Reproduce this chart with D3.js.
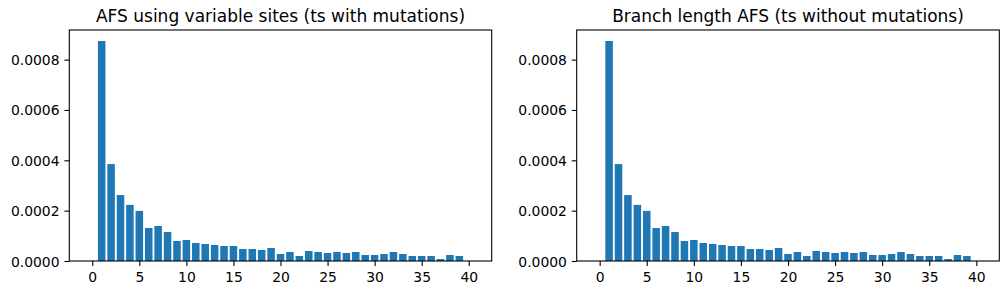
<html>

<head>
  <script src="https://d3js.org/d3.v7.min.js"></script>
  <style>
    body { margin: 0; background: white; }
    text { font-family: "DejaVu Sans", sans-serif; fill: black; }
  </style>
</head>

<body>
  <svg id="chart" width="1008" height="295" style="background: white;"></svg>

  <script>
    // allele counts 0..40
    const counts = d3.range(0, 41);

    // AFS from variable sites (ts with mutations)
    const siteAfs = [0, 0.000874, 0.000385, 0.000262, 0.000223, 0.000199, 0.000131, 0.000139, 0.000115,
      0.0000795, 0.0000834, 0.0000715, 0.0000675, 0.0000636, 0.0000596, 0.0000596, 0.0000477, 0.0000477,
      0.0000437, 0.0000517, 0.0000278, 0.0000358, 0.0000199, 0.0000397, 0.0000358, 0.0000318, 0.0000358,
      0.0000318, 0.0000358, 0.0000238, 0.0000238, 0.0000278, 0.0000358, 0.0000278, 0.0000199, 0.0000199,
      0.0000199, 0.0000079, 0.0000238, 0.0000199, 0];

    // branch length AFS (ts without mutations)
    const branchAfs = [0, 0.000874, 0.000385, 0.000262, 0.000223, 0.000199, 0.000131, 0.000139, 0.000115,
      0.0000795, 0.0000834, 0.0000715, 0.0000675, 0.0000636, 0.0000596, 0.0000596, 0.0000477, 0.0000477,
      0.0000437, 0.0000517, 0.0000278, 0.0000358, 0.0000199, 0.0000397, 0.0000358, 0.0000318, 0.0000358,
      0.0000318, 0.0000358, 0.0000238, 0.0000238, 0.0000278, 0.0000358, 0.0000278, 0.0000199, 0.0000199,
      0.0000199, 0.0000079, 0.0000238, 0.0000199, 0];

    const xTicks = [0, 5, 10, 15, 20, 25, 30, 35, 40];
    const yTicks = [0, 0.0002, 0.0004, 0.0006, 0.0008];

    const titles = ["AFS using variable sites (ts with mutations)", "Branch length AFS (ts without mutations)"];

    let svg = d3.select("svg#chart");
    const plotTop = 30, plotBottom = 261;
    const panels = [
      { left: 69.3, right: 491.7, data: siteAfs, title: titles[0] },
      { left: 576.7, right: 999.3, data: branchAfs, title: titles[1] }
    ];

    panels.forEach((p) => {
      const g = svg.append("g");

      // matplotlib-style 5% margins around bars of width 0.8
      const xlo = -0.4, xhi = 40.4, xpad = (xhi - xlo) * 0.05;
      const xScale = d3.scaleLinear().domain([xlo - xpad, xhi + xpad]).range([p.left, p.right]);
      const ymax = d3.max(p.data) * 1.05;
      const yScale = d3.scaleLinear().domain([0, ymax]).range([plotBottom, plotTop]);

      counts.forEach((c, i) => {
        const v = p.data[i];
        g.append("rect")
          .attr("x", xScale(c - 0.4))
          .attr("width", xScale(c + 0.4) - xScale(c - 0.4))
          .attr("y", yScale(v))
          .attr("height", yScale(0) - yScale(v))
          .attr("fill", "#1f77b4");
      });

      // x axis
      const xAxis = d3.axisBottom(xScale).tickValues(xTicks).tickSize(4.9).tickPadding(4)
        .tickFormat(d3.format("d"));
      const gx = g.append("g").attr("transform", `translate(0,${plotBottom})`).call(xAxis);
      gx.select(".domain").remove();
      gx.selectAll("line").attr("stroke", "black").attr("stroke-width", 1.1);
      gx.selectAll("text").style("font-size", "13.9px").attr("dy", null).attr("y", 20.5);

      // y axis
      const yAxis = d3.axisLeft(yScale).tickValues(yTicks).tickSize(4.9).tickPadding(4.9)
        .tickFormat(d3.format(".4f"));
      const gy = g.append("g").attr("transform", `translate(${p.left},0)`).call(yAxis);
      gy.select(".domain").remove();
      gy.selectAll("line").attr("stroke", "black").attr("stroke-width", 1.1);
      gy.selectAll("text").style("font-size", "13.9px").attr("dy", "0.36em");

      // frame
      g.append("rect")
        .attr("x", p.left).attr("y", plotTop)
        .attr("width", p.right - p.left).attr("height", plotBottom - plotTop)
        .attr("fill", "none").attr("stroke", "black").attr("stroke-width", 1.1);

      g.append("text")
        .attr("x", (p.left + p.right) / 2)
        .attr("y", 21.7)
        .attr("text-anchor", "middle")
        .style("font-size", "17px")
        .text(p.title);
    });
  </script>
</body>

</html>
